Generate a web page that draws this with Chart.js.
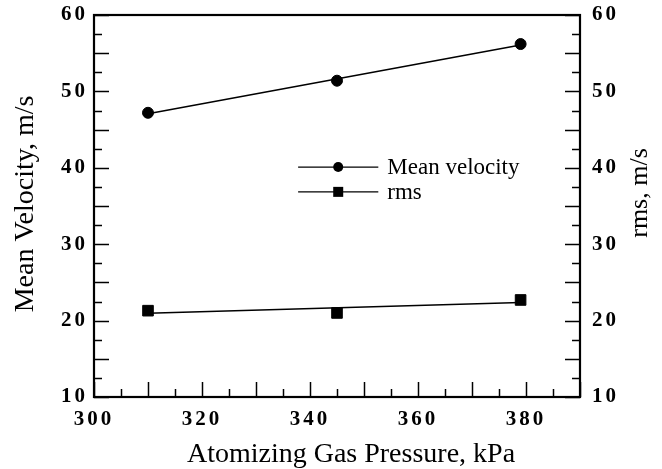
<!DOCTYPE html>
<html>
<head>
<meta charset="utf-8">
<script src="https://cdn.jsdelivr.net/npm/chart.js@4"></script>
<style>
  html, body { margin: 0; padding: 0; background: #fff; }
  #wrap { width: 662px; height: 469px; }
</style>
</head>
<body>
<div id="wrap"><canvas id="chart"></canvas></div>
<script>
// data
const pressure = [310, 345, 379];            // kPa
const meanVelocity = [47.2, 51.4, 56.2];     // m/s
const rmsVelocity = [21.3, 21.0, 22.7];      // m/s
const xRange = [300, 390];
const yRange = [10, 60];
const seriesNames = ['Mean velocity', 'rms'];
const axisTitles = ['Atomizing Gas Pressure, kPa', 'Mean Velocity, m/s', 'rms, m/s'];

// least squares line through a series, evaluated at first and last pressure
function fitLine(xs, ys) {
    const n = xs.length;
    const mx = xs.reduce((a, b) => a + b, 0) / n;
    const my = ys.reduce((a, b) => a + b, 0) / n;
    let sxy = 0, sxx = 0;
    for (let i = 0; i < n; i++) {
        sxy += (xs[i] - mx) * (ys[i] - my);
        sxx += (xs[i] - mx) * (xs[i] - mx);
    }
    const k = sxy / sxx;
    const ends = [xs[0], xs[n - 1]];
    return ends.map(x => ({ x: x, y: my + k * (x - mx) }));
}

const pts = (xs, ys) => xs.map((x, i) => ({ x: x, y: ys[i] }));

const serif = "'Liberation Serif', 'Times New Roman', serif";

// spaced-out tick digits like the original print
const spacingPlugin = {
    id: 'spacing',
    beforeDraw(chart) { chart.ctx.letterSpacing = '3px'; },
    afterDatasetsDraw(chart) { chart.ctx.letterSpacing = '0px'; },
};

// inward ticks, frame, axis titles and legend
const framePlugin = {
    id: 'frame',
    afterDraw(chart) {
        const ctx = chart.ctx;
        const a = chart.chartArea;
        const xs = chart.scales.x, ys = chart.scales.y;
        ctx.save();
        ctx.letterSpacing = '0px';
        ctx.strokeStyle = '#000';
        ctx.lineWidth = 1.5;
        for (let v = yRange[0]; v <= yRange[1]; v += 2.5) {
            const py = Math.round(ys.getPixelForValue(v)) + 0.5;
            const len = v % 5 === 0 ? 15 : 8;
            ctx.beginPath();
            ctx.moveTo(a.left, py); ctx.lineTo(a.left + len, py);
            ctx.moveTo(a.right, py); ctx.lineTo(a.right - len, py);
            ctx.stroke();
        }
        for (let v = xRange[0]; v <= xRange[1]; v += 5) {
            const px = Math.round(xs.getPixelForValue(v)) + 0.5;
            const len = v % 10 === 0 ? 15 : 8;
            ctx.beginPath();
            ctx.moveTo(px, a.bottom); ctx.lineTo(px, a.bottom - len);
            ctx.stroke();
        }
        ctx.lineWidth = 2.2;
        ctx.strokeRect(a.left, a.top, a.right - a.left, a.bottom - a.top);

        // axis titles
        ctx.fillStyle = '#000';
        ctx.textAlign = 'center';
        ctx.textBaseline = 'middle';
        ctx.font = '28px ' + serif;
        ctx.fillText(axisTitles[0], (a.left + a.right) / 2 + 14, 455);
        ctx.save();
        ctx.translate(26, (a.top + a.bottom) / 2 - 2);
        ctx.rotate(-Math.PI / 2);
        ctx.fillText(axisTitles[1], 0, 0);
        ctx.restore();
        ctx.save();
        ctx.font = '26px ' + serif;
        ctx.translate(640, (a.top + a.bottom) / 2 - 13);
        ctx.rotate(-Math.PI / 2);
        ctx.fillText(axisTitles[2], 0, 0);
        ctx.restore();

        // legend
        const w = a.right - a.left, h = a.bottom - a.top;
        const lx0 = a.left + w * 0.420;
        const lx1 = a.left + w * 0.585;
        const mx = (lx0 + lx1) / 2;
        const rows = [a.top + h * 0.398, a.top + h * 0.463];
        ctx.lineWidth = 1.2;
        ctx.font = '23px ' + serif;
        ctx.textAlign = 'left';
        rows.forEach((ry, i) => {
            ctx.beginPath();
            ctx.moveTo(lx0, ry); ctx.lineTo(lx1, ry);
            ctx.stroke();
            if (i === 0) {
                ctx.beginPath();
                ctx.arc(mx, ry, 5, 0, Math.PI * 2);
                ctx.fill();
            } else {
                ctx.fillRect(mx - 5, ry - 5, 10, 10);
            }
            ctx.fillText(seriesNames[i], lx1 + 9, ry + 1);
        });
        ctx.restore();
    }
};

const tickFont = { family: serif, size: 21, weight: 'bold' };

new Chart(document.getElementById('chart'), {
    type: 'scatter',
    data: {
        datasets: [
            {
                label: seriesNames[0],
                data: pts(pressure, meanVelocity),
                yAxisID: 'y',
                pointStyle: 'circle',
                pointRadius: 5.5,
                backgroundColor: '#000',
                borderColor: '#000',
                showLine: false,
            },
            {
                label: seriesNames[1],
                data: pts(pressure, rmsVelocity),
                yAxisID: 'y2',
                pointStyle: 'rect',
                pointRadius: 7.5,
                backgroundColor: '#000',
                borderColor: '#000',
                showLine: false,
            },
            {
                label: 'fit1',
                data: fitLine(pressure, meanVelocity),
                yAxisID: 'y',
                showLine: true,
                pointRadius: 0,
                borderColor: '#000',
                borderWidth: 1.5,
            },
            {
                label: 'fit2',
                data: fitLine(pressure, rmsVelocity),
                yAxisID: 'y2',
                showLine: true,
                pointRadius: 0,
                borderColor: '#000',
                borderWidth: 1.5,
            },
        ],
    },
    options: {
        responsive: true,
        maintainAspectRatio: false,
        animation: false,
        layout: { padding: { top: 15, left: 0, right: 0, bottom: 0 } },
        plugins: {
            legend: { display: false },
            tooltip: { enabled: false },
        },
        scales: {
            x: {
                type: 'linear',
                min: xRange[0],
                max: xRange[1],
                grid: { display: false, drawTicks: false },
                border: { display: false },
                ticks: {
                    stepSize: 20,
                    includeBounds: false,
                    padding: 10,
                    color: '#000',
                    font: tickFont,
                    maxRotation: 0,
                },
                afterFit: s => { s.height = 72; s.paddingLeft = 0; s.paddingRight = 0; },
            },
            y: {
                position: 'left',
                min: yRange[0],
                max: yRange[1],
                grid: { display: false, drawTicks: false },
                border: { display: false },
                ticks: { stepSize: 10, padding: 6, color: '#000', font: tickFont },
                afterFit: s => { s.width = 94; s.paddingTop = 0; s.paddingBottom = 0; },
            },
            y2: {
                position: 'right',
                min: yRange[0],
                max: yRange[1],
                grid: { display: false, drawTicks: false },
                border: { display: false },
                ticks: { stepSize: 10, padding: 12, color: '#000', font: tickFont },
                afterFit: s => { s.width = 82; s.paddingTop = 0; s.paddingBottom = 0; },
            },
        },
    },
    plugins: [spacingPlugin, framePlugin],
});
</script>
</body>
</html>
